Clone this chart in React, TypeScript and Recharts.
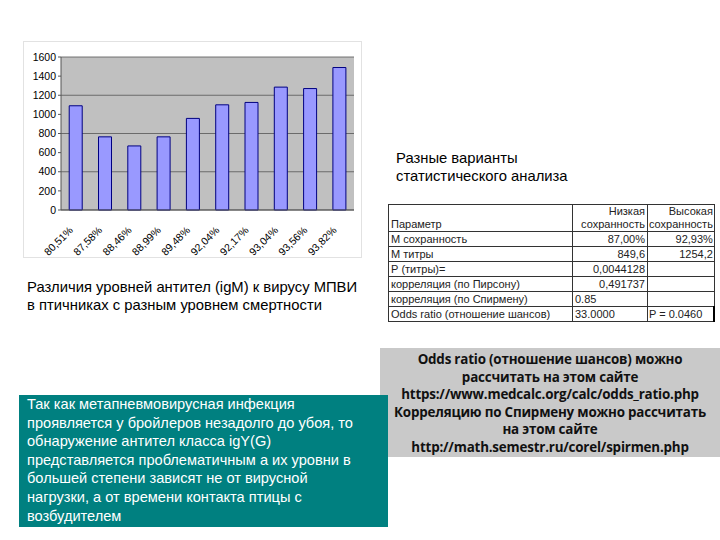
import React from "react";
import { BarChart, Bar, XAxis, YAxis, CartesianGrid } from "recharts";

// Survival per poultry house (x labels) and igM titre values
const survival = ["80,51%", "87,58%", "88,46%", "88,99%", "89,48%", "92,04%", "92,17%", "93,04%", "93,56%", "93,82%"];
const titres = [1090, 765, 670, 765, 958, 1100, 1125, 1285, 1270, 1490];
const yTicks = [0, 200, 400, 600, 800, 1000, 1200, 1400, 1600];

const headerCols = ["Параметр", "Низкая сохранность", "Высокая сохранность"];
const rowLabels = [
  "М сохранность",
  "М титры",
  "Р (титры)=",
  "корреляция (по Пирсону)",
  "корреляция (по Спирмену)",
  "Odds ratio (отношение шансов)",
];
const lowCol = ["87,00%", "849,6", "0,0044128", "0,491737", "0.85", "33.0000"];
const highCol = ["92,93%", "1254,2", "", "", "", "P = 0.0460"];

const chartData = survival.map((s, i) => ({ name: s, value: titres[i] }));

const SANS = "'Liberation Sans', Arial, sans-serif";

const RotTick = (props: any) => {
  const { x, y, payload } = props;
  return (
    <g transform={`translate(${x - 2},${y + 13})`}>
      <text
        transform="rotate(-45)"
        textAnchor="end"
        fontSize={10.5}
        fontFamily={SANS}
        fill="#000"
      >
        {payload.value}
      </text>
    </g>
  );
};

const cell: React.CSSProperties = {
  border: "1px solid #333",
  padding: "0 2px",
  height: 14,
  lineHeight: "14px",
  whiteSpace: "nowrap",
};

export default function App() {
  const [h1, h2] = headerCols.slice(1).map((h) => h.split(" "));
  return (
    <div
      style={{
        position: "absolute",
        left: 0,
        top: 0,
        width: 720,
        height: 540,
        background: "#fff",
        fontFamily: SANS,
        overflow: "hidden",
      }}
    >
      {/* chart */}
      <div
        style={{
          position: "absolute",
          left: 23,
          top: 41,
          width: 339,
          height: 217,
          border: "1px solid #e2e2e2",
          boxSizing: "border-box",
        }}
      >
        <BarChart
          width={337}
          height={215}
          data={chartData}
          margin={{ top: 15, right: 7, left: 0, bottom: 0 }}
          barCategoryGap="28%"
        >
          <CartesianGrid vertical={false} fill="#c0c0c0" stroke="#555" strokeOpacity={0.8} />
          <XAxis
            dataKey="name"
            interval={0}
            height={47}
            tick={<RotTick />}
            tickLine={false}
            axisLine={{ stroke: "#555" }}
          />
          <YAxis
            width={37}
            domain={[0, 1600]}
            ticks={yTicks}
            tickSize={3}
            tick={{ fontSize: 10.5, fill: "#000", fontFamily: SANS }}
            axisLine={{ stroke: "#555" }}
            tickLine={{ stroke: "#555" }}
          />
          <Bar dataKey="value" fill="#9999ff" stroke="#000080" strokeWidth={1} isAnimationActive={false} />
        </BarChart>
      </div>

      {/* caption under chart */}
      <div
        style={{
          position: "absolute",
          left: 27,
          top: 278,
          fontSize: 14.8,
          lineHeight: "18px",
          color: "#000",
        }}
      >
        Различия уровней антител (igM) к вирусу МПВИ
        <br />
        в птичниках с разным уровнем смертности
      </div>

      {/* right heading */}
      <div
        style={{
          position: "absolute",
          left: 396,
          top: 149,
          fontSize: 14.8,
          lineHeight: "18px",
          color: "#000",
        }}
      >
        Разные варианты
        <br />
        статистического анализа
      </div>

      {/* table */}
      <table
        style={{
          position: "absolute",
          left: 388,
          top: 204,
          borderCollapse: "collapse",
          fontSize: 11,
          color: "#222",
          fontFamily: SANS,
        }}
      >
        <tbody>
          <tr>
            <td style={{ ...cell, width: 179, height: 25, verticalAlign: "bottom" }}>{headerCols[0]}</td>
            <td style={{ ...cell, width: 70, textAlign: "right", height: 25, lineHeight: "13px" }}>
              {h1[0]}
              <br />
              {h1[1]}
            </td>
            <td style={{ ...cell, width: 61, padding: "0 1px", textAlign: "right", height: 25, lineHeight: "13px" }}>
              {h2[0]}
              <br />
              {h2[1]}
            </td>
          </tr>
          {rowLabels.map((r, i) => (
            <tr key={r}>
              <td style={cell}>{r}</td>
              <td style={{ ...cell, textAlign: i >= 4 ? "left" : "right" }}>{lowCol[i]}</td>
              <td
                style={{
                  ...cell,
                  padding: "0 1px",
                  textAlign: i >= 5 ? "left" : "right",
                  borderRight: i === 5 ? "2px solid #000" : cell.border,
                }}
              >
                {highCol[i]}
              </td>
            </tr>
          ))}
        </tbody>
      </table>

      {/* gray info box */}
      <div
        style={{
          position: "absolute",
          left: 380,
          top: 348,
          width: 340,
          height: 109,
          background: "#c9c9c9",
          textAlign: "center",
          fontFamily: "'Open Sans', sans-serif",
          fontWeight: 700,
          fontSize: 13.4,
          lineHeight: "17.5px",
          color: "#111",
          paddingTop: 3,
          boxSizing: "border-box",
          letterSpacing: -0.2,
        }}
      >
        Odds ratio (отношение шансов) можно
        <br />
        рассчитать на этом сайте
        <br />
        https://www.medcalc.org/calc/odds_ratio.php
        <br />
        Корреляцию по Спирмену можно рассчитать
        <br />
        на этом сайте
        <br />
        http://math.semestr.ru/corel/spirmen.php
      </div>

      {/* teal note box */}
      <div
        style={{
          position: "absolute",
          left: 19,
          top: 395,
          width: 369,
          height: 132,
          background: "#008080",
          color: "#fff",
          fontSize: 14.6,
          lineHeight: "18.6px",
          padding: "0 6px 0 8px",
          boxSizing: "border-box",
          whiteSpace: "nowrap",
        }}
      >
        Так как метапневмовирусная инфекция
        <br />
        проявляется у бройлеров незадолго до убоя, то
        <br />
        обнаружение антител класса igY(G)
        <br />
        представляется проблематичным а их уровни в
        <br />
        большей степени зависят не от вирусной
        <br />
        нагрузки, а от времени контакта птицы с
        <br />
        возбудителем
      </div>
    </div>
  );
}
